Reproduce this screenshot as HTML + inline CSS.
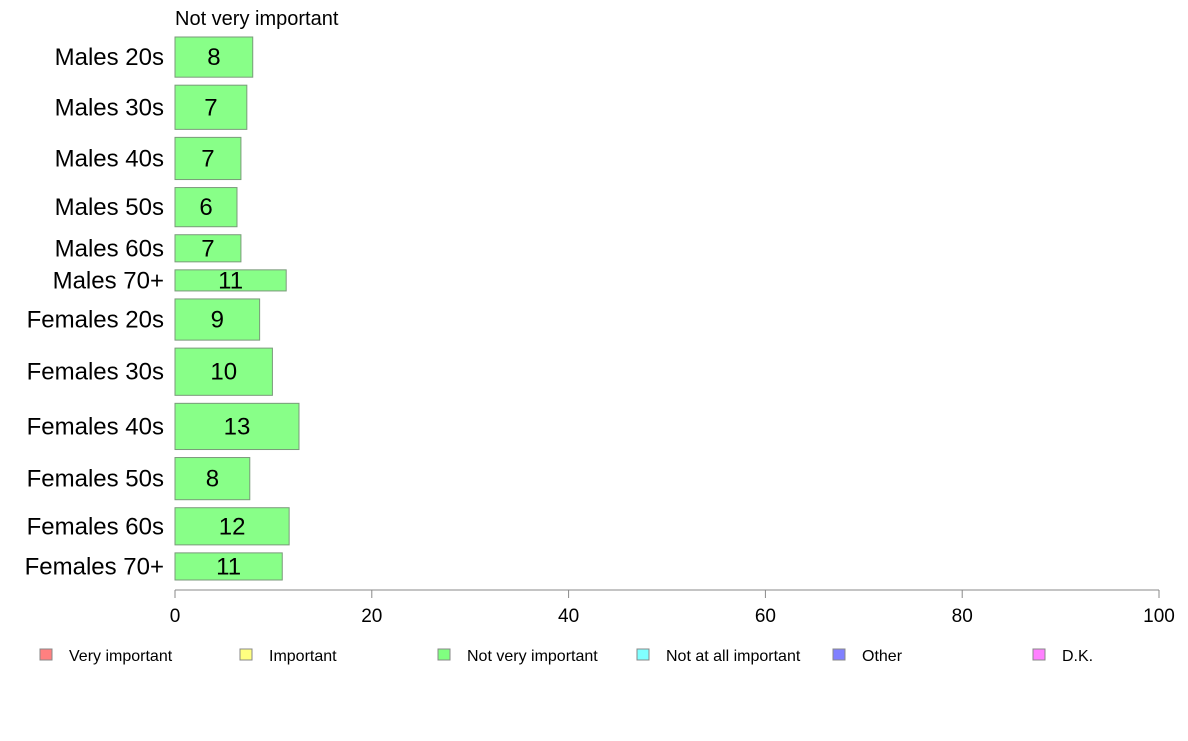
<!DOCTYPE html>
<html><head><meta charset="utf-8"><style>
body{margin:0;background:#fff;font-family:"Liberation Sans",sans-serif;}
svg text{font-family:"Liberation Sans",sans-serif;}
</style></head><body>
<svg id="c" width="1188" height="736">
<text x="175" y="25" font-size="20">Not very important</text>
<g id="bars"></g>
<g id="axis"></g>
<g id="legend"></g>
</svg>
<script>
const categories=["Males 20s","Males 30s","Males 40s","Males 50s","Males 60s","Males 70+","Females 20s","Females 30s","Females 40s","Females 50s","Females 60s","Females 70+"];
const values=[7.9,7.3,6.7,6.3,6.7,11.3,8.6,9.9,12.6,7.6,11.6,10.9];
const weights=[40,44,42,39,27,21,41,47,46,42,37,27];
const ticks=[0,20,40,60,80,100];
const legendLabels=["Very important","Important","Not very important","Not at all important","Other","D.K."];
const legendColors=["#ff8080","#ffff80","#80ff80","#80ffff","#8080ff","#ff80ff"];
const NS="http://www.w3.org/2000/svg";
const x0=175,x1=1159,yTop=37,yBot=580,gap=8;
const xs=v=>x0+(x1-x0)*v/100;
const totalW=weights.reduce((a,b)=>a+b,0);
const unit=(yBot-yTop-gap*(weights.length-1))/totalW;
function mk(t,a,p){const e=document.createElementNS(NS,t);for(const k in a)e.setAttribute(k,a[k]);(p||document.getElementById('c')).appendChild(e);return e;}
let y=yTop;
const bg=document.getElementById('bars');
categories.forEach((c,i)=>{
  const h=weights[i]*unit;
  const r=mk('rect',{x:x0,y:y,width:xs(values[i])-x0,height:h,fill:'#88ff88',stroke:'#7a9a7a','stroke-width':1},bg);
  
  
  const l=mk('text',{x:x0-11,y:y+h/2+8,'font-size':24,'text-anchor':'end'},bg);l.textContent=c;
  
  
  const v=mk('text',{x:(x0+xs(values[i]))/2,y:y+h/2+8,'font-size':24,'text-anchor':'middle'},bg);v.textContent=Math.round(values[i]);
  
  
  y+=h+gap;
});
const ax=document.getElementById('axis');
const al=mk('line',{x1:x0,x2:x1,y1:590,y2:590,stroke:'#888','stroke-width':1},ax);


ticks.forEach(t=>{
  const tl=mk('line',{x1:xs(t),x2:xs(t),y1:590,y2:598,stroke:'#888'},ax);
  
  
  const tx=mk('text',{x:xs(t),y:622,'font-size':19,'text-anchor':'middle'},ax);tx.textContent=t;
  
  
});
const lg=document.getElementById('legend');
const lx=[40,240,438,637,833,1033];
legendLabels.forEach((s,i)=>{
  const r=mk('rect',{x:lx[i],y:649,width:12,height:11,fill:legendColors[i],stroke:'#888'},lg);
  
  
  const t=mk('text',{x:lx[i]+29,y:661,'font-size':16},lg);t.textContent=s;
  
  
});
</script>
</body></html>
